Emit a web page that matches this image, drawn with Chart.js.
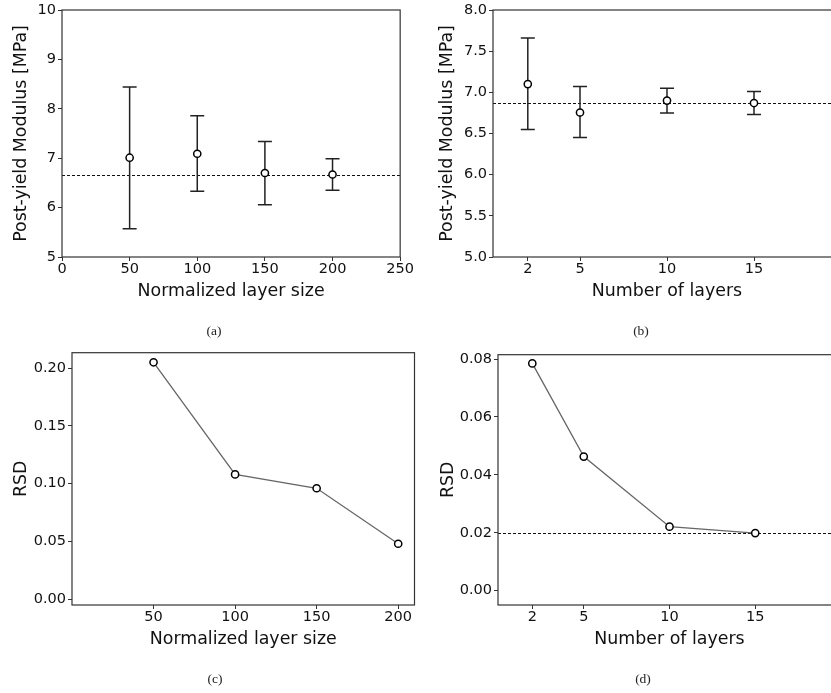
<!DOCTYPE html>
<html><head><meta charset="utf-8">
<script src="https://cdn.jsdelivr.net/npm/chart.js@4"></script>
<style>
html,body{margin:0;padding:0;background:#fff;overflow:hidden;width:831px;height:693px;position:relative;}
canvas{position:absolute;}
.cap{position:absolute;font-family:"Liberation Serif";font-size:13.5px;color:#222;transform:translateX(-50%);white-space:nowrap;}
</style></head><body>
<canvas id="ca" width="415" height="340" style="left:0;top:0"></canvas>
<canvas id="cb" width="440" height="340" style="left:415px;top:0"></canvas>
<canvas id="cc" width="420" height="353" style="left:0;top:340px"></canvas>
<canvas id="cd" width="440" height="353" style="left:415px;top:340px"></canvas>
<div class="cap" style="left:214px;top:323px">(a)</div>
<div class="cap" style="left:641px;top:323px">(b)</div>
<div class="cap" style="left:215px;top:671px">(c)</div>
<div class="cap" style="left:643px;top:671px">(d)</div>
<script>
// ---- data ----
const layerSizes = [50, 100, 150, 200];
const sizeModulusMean = [7.01, 7.09, 6.70, 6.67];
const sizeModulusLow = [5.57, 6.33, 6.06, 6.35];
const sizeModulusHigh = [8.44, 7.86, 7.34, 6.99];
const sizeModulusRef = 6.67;

const layerCounts = [2, 5, 10, 15];
const countModulusMean = [7.10, 6.755, 6.90, 6.87];
const countModulusLow = [6.55, 6.45, 6.75, 6.73];
const countModulusHigh = [7.66, 7.07, 7.05, 7.01];
const countModulusRef = 6.865;

const sizeRSD = [0.205, 0.108, 0.096, 0.048];
const countRSD = [0.0785, 0.0463, 0.0221, 0.0199];
const countRSDRef = 0.02;

// ---- tick labels ----
const ticksXA = [0, 50, 100, 150, 200, 250];
const ticksYA = [5, 6, 7, 8, 9, 10];
const ticksXB = [2, 5, 10, 15];
const ticksYB = [5.0, 5.5, 6.0, 6.5, 7.0, 7.5, 8.0];
const ticksXC = [50, 100, 150, 200];
const ticksYC = [0.00, 0.05, 0.10, 0.15, 0.20];
const ticksXD = [2, 5, 10, 15];
const ticksYD = [0.00, 0.02, 0.04, 0.06, 0.08];

const FONT = 'DejaVu Sans';

const refLinePlugin = {
  id: 'refLine',
  beforeDatasetsDraw(chart, args, opts) {
    if (opts.value == null) return;
    const {ctx, chartArea: a, scales: {y}} = chart;
    const py = Math.round(y.getPixelForValue(opts.value)) + 0.5;
    ctx.save();
    ctx.strokeStyle = '#111'; ctx.lineWidth = 1; ctx.setLineDash([3, 2]);
    ctx.beginPath(); ctx.moveTo(a.left, py); ctx.lineTo(a.right, py); ctx.stroke();
    ctx.restore();
  }
};
const errorBarPlugin = {
  id: 'errorBars',
  beforeDatasetsDraw(chart, args, opts) {
    if (!opts.x) return;
    const {ctx, scales: {x, y}} = chart;
    ctx.save();
    ctx.strokeStyle = '#222'; ctx.lineWidth = 1.5;
    opts.x.forEach((xv, i) => {
      const px = x.getPixelForValue(xv);
      const lo = y.getPixelForValue(opts.low[i]);
      const hi = y.getPixelForValue(opts.high[i]);
      ctx.beginPath();
      ctx.moveTo(px, lo); ctx.lineTo(px, hi);
      ctx.moveTo(px - 7, lo); ctx.lineTo(px + 7, lo);
      ctx.moveTo(px - 7, hi); ctx.lineTo(px + 7, hi);
      ctx.stroke();
    });
    ctx.restore();
  }
};
const framePlugin = {
  id: 'frame',
  afterDatasetsDraw(chart) {
    const {ctx, chartArea: a} = chart;
    ctx.save();
    ctx.strokeStyle = '#333'; ctx.lineWidth = 1.2;
    ctx.strokeRect(a.left, a.top, a.right - a.left, a.bottom - a.top);
    ctx.restore();
  }
};

function fixedTicks(vals) {
  return function (scale) { scale.ticks = vals.map(v => ({value: v})); };
}

function makeChart(id, c) {
  const pts = c.xs.map((v, i) => ({x: v, y: c.ys[i]}));
  return new Chart(document.getElementById(id), {
    type: 'scatter',
    data: {datasets: [{
      data: pts,
      showLine: !!c.line,
      borderColor: '#666',
      borderWidth: 1.3,
      pointRadius: 3.6,
      pointBorderWidth: 1.5,
      pointBackgroundColor: '#fff',
      pointBorderColor: '#000'
    }]},
    options: {
      responsive: false,
      animation: false,
      layout: {padding: c.pad},
      plugins: {
        legend: {display: false},
        tooltip: {enabled: false},
        refLine: {value: c.ref},
        errorBars: c.err || {}
      },
      scales: {
        x: {
          type: 'linear', min: c.xmin, max: c.xmax,
          afterBuildTicks: fixedTicks(c.xTicks),
          afterFit: s => { s.height = c.xh; },
          grid: {drawOnChartArea: false, drawTicks: true, tickLength: 4, color: '#333', lineWidth: 1},
          border: {display: false},
          ticks: {font: {family: FONT, size: 14.5, lineHeight: 1}, color: '#111', padding: 1,
                  maxRotation: 0, autoSkip: false, callback: v => String(v)},
          title: {display: true, text: c.xTitle, color: '#111',
                  font: {family: FONT, size: 17.4, lineHeight: 1}, padding: {top: 0, bottom: c.xtp}}
        },
        y: {
          type: 'linear', min: c.ymin, max: c.ymax,
          afterBuildTicks: fixedTicks(c.yTicks),
          afterFit: s => { s.width = c.yw; },
          grid: {drawOnChartArea: false, drawTicks: true, tickLength: 4, color: '#333', lineWidth: 1},
          border: {display: false},
          ticks: {font: {family: FONT, size: 14.5, lineHeight: 1}, color: '#111', padding: 2,
                  autoSkip: false, callback: v => c.yDec == null ? String(v) : Number(v).toFixed(c.yDec)},
          title: {display: true, text: c.yTitle, color: '#111',
                  font: {family: FONT, size: 17.4, lineHeight: 1}, padding: {top: c.ytp, bottom: 0}}
        }
      }
    },
    plugins: [refLinePlugin, errorBarPlugin, framePlugin]
  });
}

makeChart('ca', {
  xs: layerSizes, ys: sizeModulusMean,
  err: {x: layerSizes, low: sizeModulusLow, high: sizeModulusHigh},
  ref: sizeModulusRef,
  xmin: 0, xmax: 250, ymin: 5, ymax: 10,
  xTicks: ticksXA, yTicks: ticksYA,
  xTitle: 'Normalized layer size', yTitle: 'Post-yield Modulus [MPa]',
  pad: {left: 0, top: 10, right: 13, bottom: 0}, yw: 62, xh: 83, ytp: 13, xtp: 40
});
makeChart('cb', {
  xs: layerCounts, ys: countModulusMean,
  err: {x: layerCounts, low: countModulusLow, high: countModulusHigh},
  ref: countModulusRef,
  xmin: 0, xmax: 20, ymin: 5, ymax: 8,
  xTicks: ticksXB, yTicks: ticksYB, yDec: 1,
  xTitle: 'Number of layers', yTitle: 'Post-yield Modulus [MPa]',
  pad: {left: 0, top: 10, right: 14, bottom: 0}, yw: 78, xh: 83, ytp: 24, xtp: 40
});
makeChart('cc', {
  xs: layerSizes, ys: sizeRSD, line: true,
  xmin: 0, xmax: 210, ymin: -0.005, ymax: 0.2133,
  xTicks: ticksXC, yTicks: ticksYC, yDec: 2,
  xTitle: 'Normalized layer size', yTitle: 'RSD',
  pad: {left: 0, top: 12.7, right: 5, bottom: 0}, yw: 72, xh: 88, ytp: 13, xtp: 45
});
makeChart('cd', {
  xs: layerCounts, ys: countRSD, line: true,
  ref: countRSDRef,
  xmin: 0, xmax: 20, ymin: -0.00495, ymax: 0.0815,
  xTicks: ticksXD, yTicks: ticksYD, yDec: 2,
  xTitle: 'Number of layers', yTitle: 'RSD',
  pad: {left: 0, top: 14.7, right: 14, bottom: 0}, yw: 83, xh: 88, ytp: 24.5, xtp: 45
});
</script>
</body></html>
